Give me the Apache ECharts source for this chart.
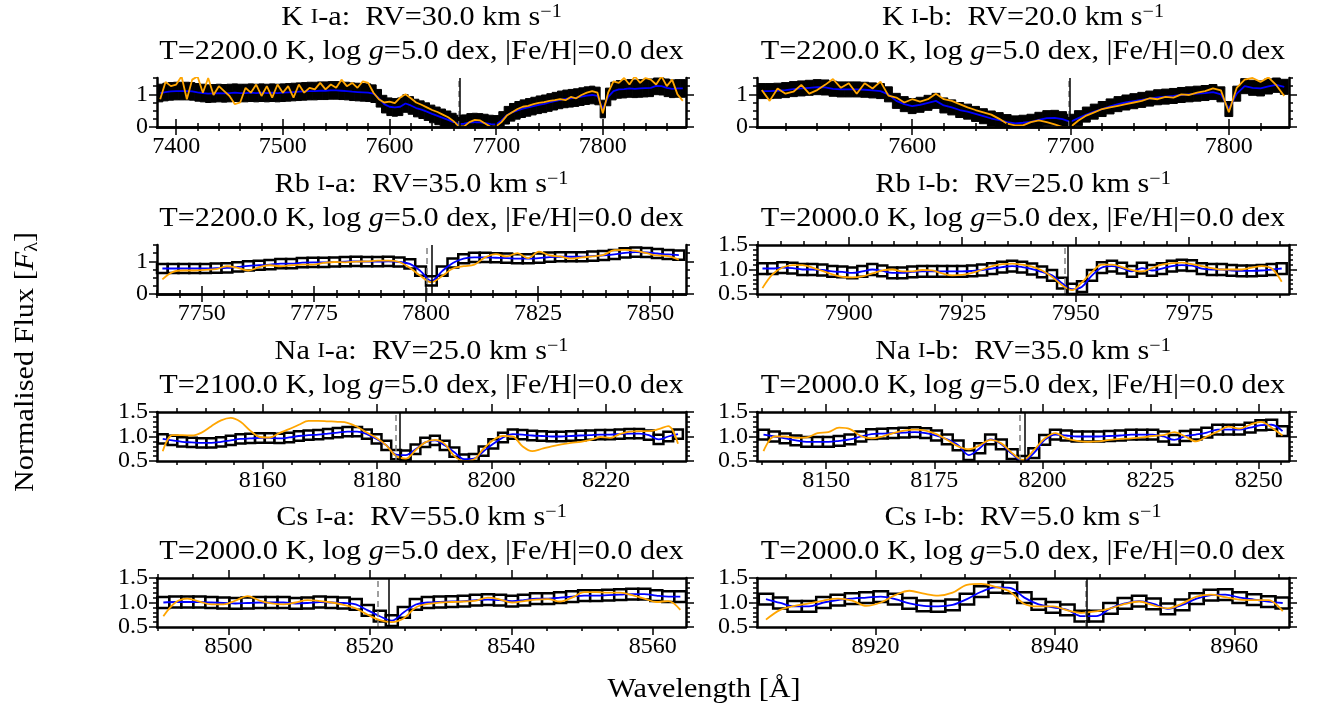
<!DOCTYPE html>
<html><head><meta charset="utf-8">
<script src="https://cdn.jsdelivr.net/npm/echarts@6/dist/echarts.min.js"></script>
<style>html,body{margin:0;padding:0;background:#fff}#c{width:1335px;height:712px}</style>
</head><body><div id="c"></div><script>
// ---------------- DATA ----------------
const KIa_wl=[7385,7390,7395,7400,7405,7410,7415,7420,7425,7430,7435,7440,7445,7450,7455,7460,7465,7470,7475,7480,7485,7490,7495,7500,7505,7510,7515,7520,7525,7530,7535,7540,7545,7550,7555,7560,7565,7570,7575,7580,7585,7590,7595,7600,7605,7610,7615,7620,7625,7630,7635,7640,7645,7650,7655,7660,7665,7670,7675,7680,7685,7690,7695,7700,7705,7710,7715,7720,7725,7730,7735,7740,7745,7750,7755,7760,7765,7770,7775,7780,7785,7790,7795,7800,7805,7810,7815,7820,7825,7830,7835,7840,7845,7850,7855,7860,7865,7870,7875];
const KIa_flux=[1.04,1.07,1.09,1.10,1.10,1.10,1.09,1.06,1.04,1.02,1.03,1.04,1.03,1.04,1.05,1.04,1.04,1.05,1.04,1.05,1.04,1.05,1.04,1.05,1.06,1.07,1.08,1.09,1.10,1.10,1.11,1.11,1.12,1.12,1.11,1.10,1.08,1.07,1.06,1.05,1.02,0.88,0.70,0.62,0.60,0.62,0.72,0.66,0.58,0.53,0.47,0.40,0.34,0.28,0.22,0.15,0.09,0.10,0.14,0.15,0.14,0.12,0.09,0.08,0.20,0.36,0.45,0.51,0.56,0.60,0.64,0.68,0.71,0.75,0.79,0.83,0.86,0.88,0.90,0.93,0.96,0.98,0.95,0.55,0.92,1.10,1.15,1.16,1.18,1.17,1.18,1.19,1.20,1.26,1.25,1.20,1.17,1.18,1.18];
const KIa_model=[0.85,1.38,1.25,1.30,1.55,0.85,1.45,1.55,1.05,1.50,0.98,1.25,1.10,0.95,0.70,0.75,1.20,1.05,1.30,0.95,1.25,0.90,1.30,1.05,1.25,0.90,1.30,1.05,1.20,1.15,1.35,1.15,1.30,1.20,1.45,1.25,1.35,1.20,1.40,1.35,1.05,0.85,0.75,0.78,0.73,0.90,1.00,0.88,0.75,0.68,0.60,0.52,0.46,0.38,0.30,0.18,0.02,0.02,0.15,0.22,0.20,0.10,0.00,0.02,0.15,0.35,0.45,0.55,0.62,0.65,0.70,0.74,0.76,0.80,0.82,0.85,0.82,0.92,0.88,0.98,1.05,1.10,1.05,0.42,1.05,1.40,1.35,1.50,1.30,1.55,1.35,1.50,1.45,1.30,1.55,1.25,1.45,1.00,0.80];
const KIa_err=0.27;

const KIb_wl=[7505,7510,7515,7520,7525,7530,7535,7540,7545,7550,7555,7560,7565,7570,7575,7580,7585,7590,7595,7600,7605,7610,7615,7620,7625,7630,7635,7640,7645,7650,7655,7660,7665,7670,7675,7680,7685,7690,7695,7700,7705,7710,7715,7720,7725,7730,7735,7740,7745,7750,7755,7760,7765,7770,7775,7780,7785,7790,7795,7800,7805,7810,7815,7820,7825,7830,7835];
const KIb_flux=[1.10,1.10,1.11,1.13,1.16,1.18,1.20,1.22,1.21,1.17,1.15,1.15,1.15,1.14,1.12,1.10,1.00,0.80,0.70,0.64,0.68,0.74,0.80,0.66,0.60,0.52,0.47,0.40,0.33,0.26,0.21,0.15,0.11,0.13,0.16,0.22,0.27,0.28,0.24,0.16,0.27,0.38,0.47,0.55,0.63,0.70,0.75,0.79,0.83,0.87,0.91,0.93,0.95,0.98,1.00,1.02,1.04,1.07,1.00,0.55,1.02,1.25,1.20,1.18,1.24,1.29,1.23];
const KIb_model=[1.13,0.80,1.18,1.02,1.08,1.29,1.02,1.13,1.29,1.47,1.20,1.34,1.02,1.34,1.18,1.39,0.96,0.90,0.75,0.85,0.78,0.85,1.02,0.85,0.80,0.70,0.60,0.52,0.45,0.38,0.25,0.10,0.05,0.05,0.15,0.20,0.15,0.08,0.00,0.00,0.20,0.35,0.45,0.55,0.60,0.65,0.70,0.75,0.80,0.88,0.85,0.92,0.90,1.00,0.98,1.05,1.10,1.18,1.12,0.45,1.20,1.45,1.50,1.38,1.52,1.28,0.95];
const KIb_err=0.23;

const RbIa_wl=[7741.2,7743.6,7746.0,7748.4,7750.8,7753.2,7755.6,7758.0,7760.4,7762.8,7765.2,7767.6,7770.0,7772.4,7774.8,7777.2,7779.6,7782.0,7784.4,7786.8,7789.2,7791.6,7794.0,7796.4,7798.8,7801.2,7803.6,7806.0,7808.4,7810.8,7813.2,7815.6,7818.0,7820.4,7822.8,7825.2,7827.6,7830.0,7832.4,7834.8,7837.2,7839.6,7842.0,7844.4,7846.8,7849.2,7851.6,7854.0,7856.4];
const RbIa_flux=[0.78,0.78,0.78,0.78,0.78,0.79,0.80,0.83,0.86,0.88,0.90,0.93,0.93,0.96,0.97,0.97,0.98,0.99,1.00,0.99,0.99,1.00,0.98,0.92,0.70,0.40,0.70,0.95,1.08,1.12,1.12,1.11,1.10,1.08,1.08,1.10,1.13,1.14,1.14,1.14,1.16,1.18,1.21,1.26,1.28,1.27,1.24,1.21,1.19];
const RbIa_model=[0.45,0.68,0.72,0.72,0.74,0.76,0.85,0.80,0.72,0.82,0.88,0.85,0.88,0.90,0.90,0.95,0.98,0.97,0.99,1.00,1.02,1.02,0.98,0.80,0.55,0.36,0.55,0.78,0.85,0.90,1.12,1.22,1.15,1.25,1.10,1.30,1.18,1.15,1.08,1.12,1.15,1.20,1.34,1.35,1.32,1.25,1.18,1.16,1.05];
const RbIa_err=0.14;

const RbIb_wl=[7881.0,7883.2,7885.4,7887.6,7889.8,7892.0,7894.2,7896.4,7898.6,7900.8,7903.0,7905.2,7907.4,7909.6,7911.8,7914.0,7916.2,7918.4,7920.6,7922.8,7925.0,7927.2,7929.4,7931.6,7933.8,7936.0,7938.2,7940.4,7942.6,7944.8,7947.0,7949.2,7951.4,7953.6,7955.8,7958.0,7960.2,7962.4,7964.6,7966.8,7969.0,7971.2,7973.4,7975.6,7977.8,7980.0,7982.2,7984.4,7986.6,7988.8,7991.0,7993.2,7995.4];
const RbIb_flux=[1.02,1.02,1.04,1.03,1.00,1.00,0.99,0.96,0.95,0.93,0.96,1.00,0.97,0.93,0.93,0.95,0.96,0.96,0.96,0.96,0.96,0.97,0.99,1.02,1.05,1.07,1.05,1.01,0.95,0.88,0.72,0.60,0.65,0.88,1.04,1.07,1.03,0.96,1.03,0.98,1.02,1.07,1.09,1.08,1.02,1.00,1.00,0.98,0.97,0.97,0.98,1.00,1.02];
const RbIb_model=[0.62,0.90,1.04,1.09,1.09,1.04,0.97,0.90,0.85,0.84,0.86,0.92,0.98,1.00,0.96,0.96,0.99,0.98,0.92,0.88,0.89,0.93,1.00,1.07,1.11,1.12,1.10,1.06,0.98,0.85,0.68,0.58,0.74,0.95,1.10,1.10,1.05,0.99,0.96,1.03,1.10,1.13,1.14,1.11,1.07,1.03,1.00,1.00,1.00,1.04,1.07,1.02,0.75];
const RbIb_err=0.11;

const NaIa_wl=[8142.5,8144.2,8145.9,8147.6,8149.3,8151.0,8152.7,8154.4,8156.1,8157.8,8159.5,8161.2,8162.9,8164.6,8166.3,8168.0,8169.7,8171.4,8173.1,8174.8,8176.5,8178.2,8179.9,8181.6,8183.3,8185.0,8186.7,8188.4,8190.1,8191.8,8193.5,8195.2,8196.9,8198.6,8200.3,8202.0,8203.7,8205.4,8207.1,8208.8,8210.5,8212.2,8213.9,8215.6,8217.3,8219.0,8220.7,8222.4,8224.1,8225.8,8227.5,8229.2,8230.9,8232.6];
const NaIa_flux=[0.95,0.92,0.89,0.88,0.87,0.87,0.89,0.92,0.95,0.96,0.97,0.97,0.96,0.98,1.01,1.03,1.04,1.06,1.08,1.10,1.10,1.05,0.95,0.82,0.63,0.62,0.74,0.88,0.92,0.82,0.68,0.54,0.55,0.70,0.85,0.98,1.05,1.04,1.02,1.01,1.00,1.00,1.01,1.02,1.03,1.04,1.04,1.05,1.06,1.06,1.03,0.94,1.00,1.05];
const NaIa_model=[0.70,1.03,1.03,1.02,1.08,1.21,1.33,1.38,1.30,1.12,0.99,0.98,1.07,1.15,1.24,1.32,1.32,1.31,1.30,1.28,1.20,1.08,0.97,0.82,0.60,0.55,0.72,0.88,0.93,0.85,0.60,0.50,0.53,0.75,0.93,1.01,1.00,0.80,0.70,0.75,0.80,0.84,0.87,0.89,0.93,0.99,0.97,1.05,1.10,1.11,1.11,1.15,1.21,0.85];
const NaIa_err=0.095;

const NaIb_wl=[8135.5,8138.0,8140.5,8143.0,8145.5,8148.0,8150.5,8153.0,8155.5,8158.0,8160.5,8163.0,8165.5,8168.0,8170.5,8173.0,8175.5,8178.0,8180.5,8183.0,8185.5,8188.0,8190.5,8193.0,8195.5,8198.0,8200.5,8203.0,8205.5,8208.0,8210.5,8213.0,8215.5,8218.0,8220.5,8223.0,8225.5,8228.0,8230.5,8233.0,8235.5,8238.0,8240.5,8243.0,8245.5,8248.0,8250.5,8253.0,8255.5];
const NaIb_flux=[1.04,1.00,0.96,0.92,0.89,0.89,0.89,0.91,0.94,1.00,1.05,1.06,1.07,1.08,1.09,1.07,1.02,0.94,0.82,0.62,0.76,0.94,0.84,0.64,0.50,0.66,0.93,1.04,1.02,1.00,1.00,1.00,1.01,1.02,1.04,1.04,1.04,1.00,0.93,1.01,1.04,1.08,1.14,1.14,1.14,1.18,1.23,1.24,1.11];
const NaIb_model=[0.70,1.00,1.00,0.97,0.98,1.07,1.09,1.18,1.15,1.01,0.96,1.00,1.07,1.12,1.14,1.12,1.05,0.93,0.80,0.74,0.82,0.93,0.86,0.66,0.52,0.72,0.96,1.07,0.96,0.91,0.89,0.90,0.93,0.95,0.96,0.98,1.01,1.03,1.09,1.00,0.90,1.00,1.10,1.20,1.16,1.24,1.30,1.18,1.02];
const NaIb_err=0.10;

const CsIa_wl=[8490.8,8492.5,8494.2,8495.9,8497.6,8499.3,8501.0,8502.7,8504.4,8506.1,8507.8,8509.5,8511.2,8512.9,8514.6,8516.3,8518.0,8519.7,8521.4,8523.1,8524.8,8526.5,8528.2,8529.9,8531.6,8533.3,8535.0,8536.7,8538.4,8540.1,8541.8,8543.5,8545.2,8546.9,8548.6,8550.3,8552.0,8553.7,8555.4,8557.1,8558.8,8560.5,8562.2,8563.9];
const CsIa_flux=[1.00,1.01,1.01,1.01,1.00,0.99,0.98,0.99,1.00,1.00,1.00,0.98,0.99,1.01,1.00,0.99,0.96,0.84,0.72,0.63,0.80,0.96,1.00,1.01,1.02,1.03,1.05,1.06,1.05,1.03,1.05,1.08,1.08,1.10,1.12,1.14,1.14,1.15,1.16,1.17,1.17,1.14,1.12,1.12];
const CsIa_model=[0.72,1.00,1.08,1.02,0.96,0.96,1.04,1.13,1.04,0.98,0.96,1.00,1.05,1.03,1.00,0.95,0.88,0.75,0.64,0.60,0.68,0.90,0.97,1.00,1.01,1.02,1.04,1.10,1.06,1.00,1.03,1.06,1.07,1.02,1.10,1.21,1.21,1.20,1.20,1.15,1.08,1.01,1.03,0.85];
const CsIa_err=0.11;

const CsIb_wl=[8907.8,8909.4,8911.0,8912.6,8914.2,8915.8,8917.4,8919.0,8920.6,8922.2,8923.8,8925.4,8927.0,8928.6,8930.2,8931.8,8933.4,8935.0,8936.6,8938.2,8939.8,8941.4,8943.0,8944.6,8946.2,8947.8,8949.4,8951.0,8952.6,8954.2,8955.8,8957.4,8959.0,8960.6,8962.2,8963.8,8965.4];
const CsIb_flux=[1.07,0.99,0.92,0.92,1.00,1.05,1.08,1.10,1.12,1.07,0.98,0.93,0.92,0.95,1.07,1.22,1.31,1.30,1.10,0.96,0.90,0.85,0.72,0.72,0.88,0.98,1.03,0.97,0.87,0.95,1.08,1.15,1.16,1.10,1.06,1.02,0.99];
const CsIb_model=[0.65,0.85,0.93,0.98,1.04,1.08,1.04,0.93,1.00,1.15,1.24,1.18,1.14,1.20,1.36,1.38,1.32,1.22,0.97,0.92,0.92,0.84,0.79,0.82,0.88,0.97,1.02,0.94,0.88,0.98,1.12,1.16,1.11,1.06,1.05,1.05,0.82];
const CsIb_err=0.11;

// line positions (rest and RV-shifted)
const lineRest=[7664.9,7699.0,7800.27,7947.6,8183.26,8194.8,8521.1,8943.47];
const lineShifted=[7665.7,7699.5,7801.2,7948.3,8183.9,8195.8,8522.7,8943.6];

// titles
const titleSpecies=['K','K','Rb','Rb','Na','Na','Cs','Cs'];
const titleLine=['a','b','a','b','a','b','a','b'];
const titleRV=['30.0','20.0','35.0','25.0','25.0','35.0','55.0','5.0'];
const titleTeff=['2200.0','2200.0','2200.0','2000.0','2100.0','2000.0','2000.0','2000.0'];
const titleLogg=['5.0','5.0','5.0','5.0','5.0','5.0','5.0','5.0'];
const titleFeH=['0.0','0.0','0.0','0.0','0.0','0.0','0.0','0.0'];

// axis ranges & ticks
const xRanges=[[7382,7878],[7502,7838],[7740,7858],[7879.8,7997],[8141.5,8234],[8134,8257],[8489.9,8564.7],[8906.8,8966.1]];
const xMajors=[[7400,7500,7600,7700,7800],[7600,7700,7800],[7750,7775,7800,7825,7850],[7900,7925,7950,7975],[8160,8180,8200,8220],[8150,8175,8200,8225,8250],[8500,8520,8540,8560],[8920,8940,8960]];
const xMinorSteps=[20,20,5,5,5,5,5,5];
const yRanges=[[0,1.5],[0,1.5],[0,1.5],[0.5,1.5],[0.5,1.5],[0.5,1.5],[0.5,1.5],[0.5,1.5]];
const yMajors=[[0,1],[0,1],[0,1],[0.5,1.0,1.5],[0.5,1.0,1.5],[0.5,1.0,1.5],[0.5,1.0,1.5],[0.5,1.0,1.5]];
const yMinorSteps=[0.25,0.25,0.25,0.1,0.1,0.1,0.1,0.1];
const yDecimals=[0,0,0,1,1,1,1,1];

// ---------------- BUILD ----------------
const panelData=[
  [KIa_wl,KIa_flux,KIa_model,KIa_err,true],
  [KIb_wl,KIb_flux,KIb_model,KIb_err,true],
  [RbIa_wl,RbIa_flux,RbIa_model,RbIa_err,false],
  [RbIb_wl,RbIb_flux,RbIb_model,RbIb_err,false],
  [NaIa_wl,NaIa_flux,NaIa_model,NaIa_err,false],
  [NaIb_wl,NaIb_flux,NaIb_model,NaIb_err,false],
  [CsIa_wl,CsIa_flux,CsIa_model,CsIa_err,false],
  [CsIb_wl,CsIb_flux,CsIb_model,CsIb_err,false]
];

const FONT='Liberation Serif';
const ROW_TOP=[78,245,412,578];
const PH=49;
const COL_LEFT=[157,757], COL_W=[529,532];

function minorTicks(r,step,majors){
  const out=[];const n0=Math.ceil(r[0]/step-1e-9), n1=Math.floor(r[1]/step+1e-9);
  for(let n=n0;n<=n1;n++){const v=+(n*step).toFixed(4); if(!majors.some(m=>Math.abs(m-v)<1e-6)) out.push(v);}
  return out;
}

const grids=[],xAxes=[],yAxes=[],series=[],graphics=[];
const lineBlack={color:'#000',width:2.5};
const tickStyle={color:'#000',width:1.5};
const labelStyle={fontFamily:FONT,fontSize:24,color:'#000'};

panelData.forEach((pd,i)=>{
  const [wl,flux,model,err,dense]=pd;
  const col=i%2,row=Math.floor(i/2);
  const left=COL_LEFT[col],width=COL_W[col],top=ROW_TOP[row];
  grids.push({left:left,top:top,width:width,height:PH});
  const xr=xRanges[i],yr=yRanges[i];
  const xmaj=xMajors[i],xmin=minorTicks(xr,xMinorSteps[i],xmaj);
  const ymaj=yMajors[i],ymin=minorTicks(yr,yMinorSteps[i],ymaj);
  const xi=xAxes.length, yi=yAxes.length;
  const bx={gridIndex:i,type:'value',min:xr[0],max:xr[1],splitLine:{show:false},z:5};
  xAxes.push(Object.assign({},bx,{position:'bottom',axisLine:{show:true,lineStyle:lineBlack},axisTick:{show:true,inside:false,length:8,customValues:xmaj,lineStyle:tickStyle},axisLabel:{show:true,customValues:xmaj,margin:8,formatter:v=>String(Math.round(v)),...labelStyle}}));
  xAxes.push(Object.assign({},bx,{position:'bottom',axisLine:{show:false},axisTick:{show:true,length:4,customValues:xmin,lineStyle:tickStyle},axisLabel:{show:false}}));
  xAxes.push(Object.assign({},bx,{position:'top',axisLine:{show:true,lineStyle:lineBlack},axisTick:{show:true,length:8,customValues:xmaj,lineStyle:tickStyle},axisLabel:{show:false}}));
  xAxes.push(Object.assign({},bx,{position:'top',axisLine:{show:false},axisTick:{show:true,length:4,customValues:xmin,lineStyle:tickStyle},axisLabel:{show:false}}));
  const by={gridIndex:i,type:'value',min:yr[0],max:yr[1],splitLine:{show:false},z:5};
  const dec=yDecimals[i];
  yAxes.push(Object.assign({},by,{position:'left',axisLine:{show:true,lineStyle:lineBlack},axisTick:{show:true,length:8,customValues:ymaj,lineStyle:tickStyle},axisLabel:{show:true,customValues:ymaj,margin:9,formatter:v=>Number(v).toFixed(dec),...labelStyle}}));
  yAxes.push(Object.assign({},by,{position:'left',axisLine:{show:false},axisTick:{show:true,length:4,customValues:ymin,lineStyle:tickStyle},axisLabel:{show:false}}));
  yAxes.push(Object.assign({},by,{position:'right',axisLine:{show:true,lineStyle:lineBlack},axisTick:{show:true,length:8,customValues:ymaj,lineStyle:tickStyle},axisLabel:{show:false}}));
  yAxes.push(Object.assign({},by,{position:'right',axisLine:{show:false},axisTick:{show:true,length:4,customValues:ymin,lineStyle:tickStyle},axisLabel:{show:false}}));

  const pts=wl.map((w,k)=>[w,flux[k]]);
  const mpts=wl.map((w,k)=>[w,model[k]]);
  const halfW=(wl[1]-wl[0])/2;
  series.push({
    type:'custom',xAxisIndex:xi,yAxisIndex:yi,z:2,silent:true,animation:false,
    data:pts,
    renderItem:function(params,api){
      const x=api.value(0),y=api.value(1);
      const p1=api.coord([x-halfW,y+err]),p2=api.coord([x+halfW,y-err]);
      const cs=params.coordSys;
      const r=echarts.graphic.clipRectByRect({x:p1[0],y:p1[1],width:p2[0]-p1[0],height:p2[1]-p1[1]},{x:cs.x,y:cs.y,width:cs.width,height:cs.height});
      if(!r) return null;
      return {type:'rect',shape:r,style:{fill:dense?'#000':'#fff',stroke:'#000',lineWidth:dense?1:2.5}};
    }
  });
  series.push({type:'line',xAxisIndex:xi,yAxisIndex:yi,z:3,data:pts,showSymbol:false,symbol:'none',smooth:dense?false:0.35,
    lineStyle:{color:'#0000ff',width:1.8},animation:false,silent:true});
  series.push({type:'line',xAxisIndex:xi,yAxisIndex:yi,z:4,data:mpts,showSymbol:false,symbol:'none',smooth:dense?false:0.35,
    lineStyle:{color:'#ffa500',width:1.8},animation:false,silent:true,
    markLine:{silent:true,symbol:['none','none'],label:{show:false},animation:false,
      data:[{xAxis:lineRest[i],lineStyle:{color:'#808080',type:[6,4],width:1.5}},
            {xAxis:lineShifted[i],lineStyle:{color:'#000',type:'solid',width:1.5}}]}});

  const cx=left+width/2;
  const rich={a:{fontFamily:FONT,fontSize:27,lineHeight:30,color:'#000'},
              sc:{fontFamily:FONT,fontSize:20,lineHeight:30,color:'#000'},
              sup:{fontFamily:FONT,fontSize:18,lineHeight:18,verticalAlign:'top',color:'#000'},
              i:{fontFamily:FONT,fontSize:27,lineHeight:30,fontStyle:'italic',color:'#000'}};
  graphics.push({type:'text',x:cx,y:top-60,scaleX:1.12,silent:true,style:{
    text:`{a|${titleSpecies[i]} }{sc|I}{a|-${titleLine[i]}:  RV=${titleRV[i]} km s}{sup|\u22121}`,
    rich:rich,align:'center',verticalAlign:'middle'}});
  graphics.push({type:'text',x:cx,y:top-26,scaleX:1.12,silent:true,style:{
    text:`{a|T=${titleTeff[i]} K, log }{i|g}{a|=${titleLogg[i]} dex, |Fe/H|=${titleFeH[i]} dex}`,
    rich:rich,align:'center',verticalAlign:'middle'}});
});

graphics.push({type:'text',x:26,y:362,rotation:Math.PI/2,scaleX:1.12,silent:true,style:{
  text:'{a|Normalised Flux [}{i|F}{sub|\u03bb}{a|]}',
  rich:{a:{fontFamily:FONT,fontSize:27,lineHeight:30,color:'#000'},i:{fontFamily:FONT,fontSize:27,lineHeight:30,fontStyle:'italic',color:'#000'},
        sub:{fontFamily:FONT,fontSize:18,lineHeight:18,verticalAlign:'bottom',color:'#000'}},
  align:'center',verticalAlign:'middle'}});
graphics.push({type:'text',x:704,y:690,scaleX:1.12,silent:true,style:{
  text:'Wavelength [\u00c5]',font:'27px "Liberation Serif"',fill:'#000',align:'center',verticalAlign:'middle'}});

const chart=echarts.init(document.getElementById('c'),null,{renderer:'canvas'});
chart.setOption({animation:false,backgroundColor:'#fff',grid:grids,xAxis:xAxes,yAxis:yAxes,series:series,graphic:graphics});
</script></body></html>
